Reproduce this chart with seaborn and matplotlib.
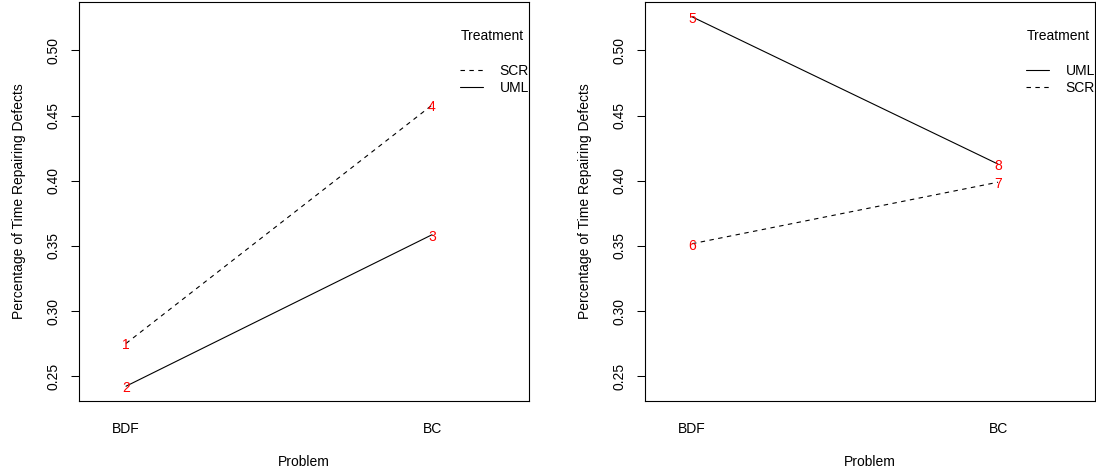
import matplotlib
matplotlib.use("Agg")
import matplotlib.pyplot as plt
from matplotlib.lines import Line2D
from matplotlib.transforms import offset_copy
import seaborn as sns
import pandas as pd

# ---- data ----
problems = ["BDF", "BC"]
left_uml = [0.2424, 0.3586]
left_scr = [0.2752, 0.4580]
left_uml_labels = ["2", "3"]
left_scr_labels = ["1", "4"]
right_uml = [0.5258, 0.4128]
right_scr = [0.3517, 0.3989]
right_uml_labels = ["5", "8"]
right_scr_labels = ["6", "7"]
left_legend_order = ["SCR", "UML"]
right_legend_order = ["UML", "SCR"]
y_ticks = [0.25, 0.30, 0.35, 0.40, 0.45, 0.50]
x_label = "Problem"
y_label = "Percentage of Time Repairing Defects"
legend_title = "Treatment"


def make_df(uml, scr, uml_lab, scr_lab):
    rows = []
    for i, p in enumerate(problems):
        rows.append({"Problem": p, "Treatment": "UML", "value": uml[i], "lab": uml_lab[i]})
        rows.append({"Problem": p, "Treatment": "SCR", "value": scr[i], "lab": scr_lab[i]})
    return pd.DataFrame(rows)


df_left = make_df(left_uml, left_scr, left_uml_labels, left_scr_labels)
df_right = make_df(right_uml, right_scr, right_uml_labels, right_scr_labels)

sns.set_style("white")
plt.rcParams["font.family"] = ["Liberation Sans", "DejaVu Sans"]
plt.rcParams["font.size"] = 10
for k in ["text.color", "axes.labelcolor", "xtick.color", "ytick.color", "axes.edgecolor"]:
    plt.rcParams[k] = "black"

all_vals = left_uml + left_scr + right_uml + right_scr
lo, hi = min(all_vals), max(all_vals)
pad = (hi - lo) * 0.04
ylim = (lo - pad, hi + pad)

W, H = 1096, 471
fig = plt.figure(figsize=(W / 100, H / 100), dpi=100)
ax1 = fig.add_axes([79 / W, 70 / H, 450 / W, 399 / H])
ax2 = fig.add_axes([645 / W, 70 / H, 450 / W, 399 / H])

dashes = {"UML": "", "SCR": (4, 4)}
xpos = {p: i for i, p in enumerate(problems)}

for ax, df, order in [(ax1, df_left, left_legend_order), (ax2, df_right, right_legend_order)]:
    sns.lineplot(data=df, x="Problem", y="value", style="Treatment", dashes=dashes,
                 color="black", linewidth=0.8, ax=ax, legend=False, sort=False,
                 estimator=None)
    tr = offset_copy(ax.transData, fig=fig, x=0, y=-2, units="dots")
    for _, r in df.iterrows():
        ax.text(xpos[r["Problem"]], r["value"], r["lab"], color="red",
                ha="center", va="center", fontsize=10, transform=tr)
    ax.set_xlim(-47 / 306, 1 + 97 / 306)
    ax.set_ylim(*ylim)
    ax.set_xticks(range(len(problems)))
    ax.set_xticklabels(problems)
    ax.set_yticks(y_ticks)
    ax.set_yticklabels([f"{t:.2f}" for t in y_ticks], rotation=90, va="center")
    ax.tick_params(axis="x", length=0, pad=15, labelsize=10)
    ax.tick_params(axis="y", left=True, length=6, width=0.75, pad=7, labelsize=10,
                   color="black")
    for s in ax.spines.values():
        s.set_visible(True)
        s.set_color("black")
        s.set_linewidth(0.8)
    ax.set_xlabel(x_label, fontsize=10)
    ax.set_ylabel(y_label, fontsize=10)
    ax.xaxis.set_label_coords(0.5, -0.153)
    ax.xaxis.label.set_va("center")
    ax.yaxis.set_label_coords(-0.133, 0.5)
    ax.yaxis.label.set_va("center")
    handles = [Line2D([], [], color="black", linewidth=0.8,
                      linestyle="-" if t == "UML" else (0, (4, 4))) for t in order]
    ax.legend(handles, order, loc="upper left", bbox_to_anchor=(0.847, 0.845),
              frameon=False, borderpad=0, borderaxespad=0, handlelength=1.65,
              handletextpad=1.2, labelspacing=0.2, fontsize=10)
    ax.text(0.849, 0.915, legend_title, transform=ax.transAxes, ha="left",
            va="center", fontsize=10)

fig.savefig("out.png", dpi=100)
